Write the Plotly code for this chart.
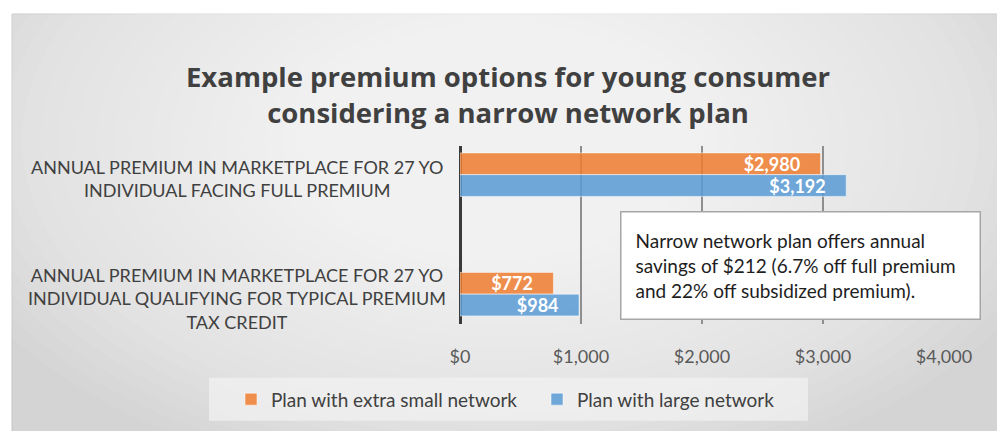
import plotly.graph_objects as go

categories = [
    "ANNUAL PREMIUM IN MARKETPLACE FOR 27 YO<br>INDIVIDUAL FACING FULL PREMIUM",
    "ANNUAL PREMIUM IN MARKETPLACE FOR 27 YO<br>INDIVIDUAL QUALIFYING FOR TYPICAL PREMIUM<br>TAX CREDIT",
]
series_names = ["Plan with extra small network", "Plan with large network"]
small_network = [2980, 772]
large_network = [3192, 984]
x_ticks = [0, 1000, 2000, 3000, 4000]
x_tick_labels = ["$0", "$1,000", "$2,000", "$3,000", "$4,000"]
title_text = "Example premium options for young consumer<br>considering a narrow network plan"
note_text = ("Narrow network plan offers annual<br>savings of $212 (6.7% off full premium<br>"
             "and 22% off subsidized premium).")

# page body has an 8px margin, so the figure is drawn 8px smaller and coordinates are offset
OFF = 8
W, H = 1005 - OFF, 431 - OFF
L, R, T, B = 460 - OFF, 944 - OFF, 146 - OFF, 328 - OFF
FONT = "Lato"


def px(xp):
    return (xp - OFF - L) / (R - L)


def py(yp):
    return (B - (yp - OFF)) / (B - T)


fig = go.Figure()
for name, vals, col in [(series_names[0], small_network, "rgba(237,125,49,0.86)"),
                        (series_names[1], large_network, "rgba(91,155,213,0.86)")]:
    fig.add_trace(go.Bar(
        y=categories, x=vals, name=name, orientation="h",
        marker=dict(color=col, line=dict(color="rgba(255,255,255,0.5)", width=1)),
        texttemplate="$%{x:,.0f}" + "\u00a0" * 4, textposition="inside", insidetextanchor="end",
        textfont=dict(family=FONT, size=18, color="white", weight="bold"),
        constraintext="none", cliponaxis=False,
    ))

# background panel with soft radial lightening
shapes = [dict(type="rect", xref="paper", yref="paper", layer="below",
               x0=px(12), x1=px(1001), y0=py(440), y1=py(11),
               fillcolor="#d4d4d4", line=dict(color="#c4c4c4", width=1))]
cx, cy = 500, 140
n = 30
for i in range(n):
    f = 1 - i / n
    rx, ry = 30 + 560 * f, 20 + 340 * f
    shapes.append(dict(type="circle", xref="paper", yref="paper", layer="below",
                       x0=px(cx - rx), x1=px(cx + rx), y0=py(cy + ry), y1=py(cy - ry),
                       fillcolor="rgba(255,255,255,0.062)", line=dict(width=0)))
# legend background
shapes.append(dict(type="rect", xref="paper", yref="paper", layer="below",
                   x0=px(209), x1=px(808), y0=py(427), y1=py(383),
                   fillcolor="rgba(242,242,242,0.7)", line=dict(width=0)))

annotations = []
for c in categories:
    annotations.append(dict(
        text=c, xref="paper", yref="y", x=px(237), y=c, yshift=-4,
        xanchor="center", yanchor="middle", align="center", showarrow=False,
        font=dict(family=FONT, size=18, color="#404040")))
annotations.append(dict(
    text=note_text, xref="paper", yref="paper",
    x=px(800.5), y=py(267), xanchor="center", yanchor="middle", yshift=-1,
    align="left", valign="middle", showarrow=False, width=330, height=78, borderpad=14,
    bgcolor="white", bordercolor="#a6a6a6", borderwidth=1.5,
    font=dict(family=FONT, size=19, color="#1e1e1e")))

fig.update_layout(
    width=W, height=H,
    margin=dict(l=L, r=W - R, t=T, b=H - B),
    paper_bgcolor="white", plot_bgcolor="rgba(0,0,0,0)",
    barmode="group", bargap=0.636, bargroupgap=0,
    title=dict(text=title_text, x=(508 - OFF) / W, xanchor="center",
               y=1 - (87 - OFF) / H, yanchor="middle",
               xref="container", yref="container",
               font=dict(family="Open Sans", size=27.5, color="#404040", weight="bold")),
    xaxis=dict(range=[0, 4000], tickvals=x_ticks, ticktext=x_tick_labels,
               showgrid=True, gridcolor="#8f8f8f", gridwidth=1.5,
               zeroline=True, zerolinecolor="#3a3a3a", zerolinewidth=3,
               ticks="outside", ticklen=16, tickcolor="rgba(0,0,0,0)",
               tickfont=dict(family=FONT, size=18, color="#595959"), showline=False),
    yaxis=dict(categoryorder="array", categoryarray=categories, range=[1.25, -0.24],
               showticklabels=False, showgrid=False, zeroline=False, showline=False),
    showlegend=True,
    legend=dict(orientation="h", xref="paper", yref="paper",
                x=px(231), y=py(405), xanchor="left", yanchor="middle",
                bgcolor="rgba(0,0,0,0)", font=dict(family=FONT, size=19, color="#404040"),
                entrywidth=261, entrywidthmode="pixels", traceorder="normal"),
    shapes=shapes, annotations=annotations,
)

fig.write_html("out.html")
